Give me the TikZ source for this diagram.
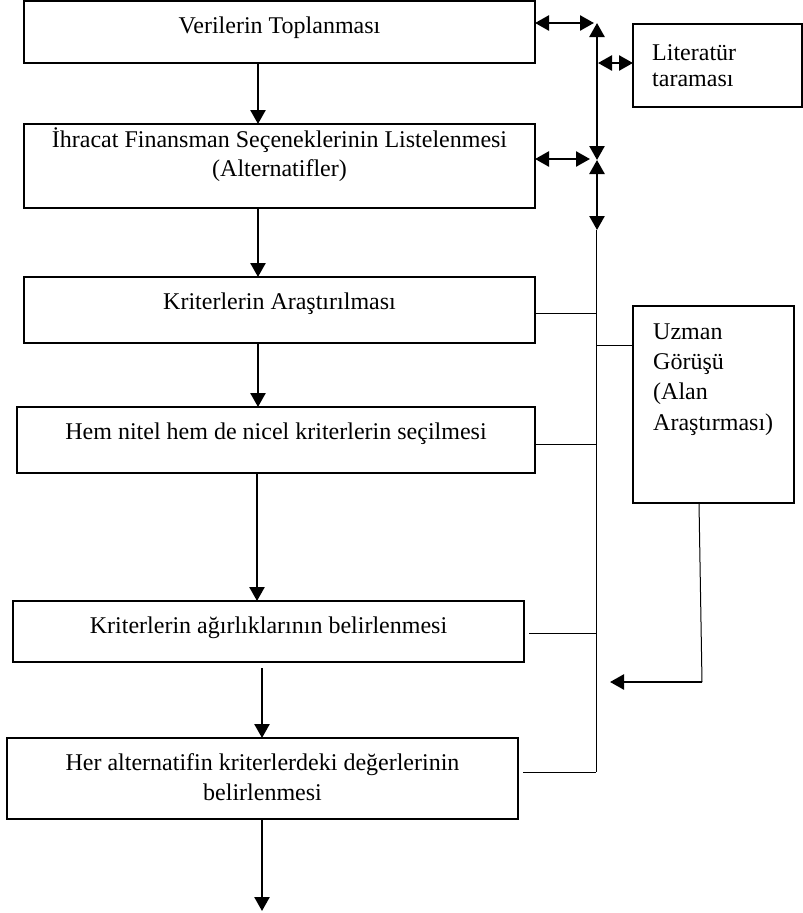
\documentclass[tikz,border=0pt]{standalone}
\usepackage{fontspec}
\setmainfont{Liberation Serif}
\usetikzlibrary{arrows.meta}
\begin{document}
\begin{tikzpicture}[x=1pt,y=-1pt,
  box/.style={draw, line width=1.5pt, inner sep=0pt, outer sep=0pt, anchor=north west},
  txt/.style={anchor=base, inner sep=0pt, font=\fontsize{24}{30}\selectfont},
  ltxt/.style={anchor=base west, inner sep=0pt, font=\fontsize{24}{30}\selectfont},
  arr/.style={line width=2.5pt, -{Triangle[length=14pt,width=15pt]}},
  dbl/.style={line width=2.5pt, {Triangle[length=14pt,width=15pt]}-{Triangle[length=14pt,width=15pt]}},
  conn/.style={line width=1pt}]
\useasboundingbox[fill=white] (0,0) rectangle (803,913);

% boxes
\node[box, minimum width=511pt, minimum height=62pt] (b1) at (24,1) {};
\node[box, minimum width=511pt, minimum height=84pt] (b2) at (24,124) {};
\node[box, minimum width=511pt, minimum height=66pt] (b3) at (24,277) {};
\node[box, minimum width=518pt, minimum height=66pt] (b4) at (17,407) {};
\node[box, minimum width=511pt, minimum height=61pt] (b5) at (13,601) {};
\node[box, minimum width=511pt, minimum height=81pt] (b6) at (7,738) {};
\node[box, minimum width=169pt, minimum height=83pt] (lit) at (633,24) {};
\node[box, minimum width=161pt, minimum height=197pt] (uz) at (633,306) {};

% texts
\node[txt] (t1) at (279.5,33) {Verilerin Toplanması};
\node[txt] (t2a) at (279.5,147) {İhracat Finansman Seçeneklerinin Listelenmesi};
\node[txt] (t2b) at (279.5,176) {(Alternatifler)};
\node[txt] (t3) at (279.5,309) {Kriterlerin Araştırılması};
\node[txt] (t4) at (276,439) {Hem nitel hem de nicel kriterlerin seçilmesi};
\node[txt] (t5) at (268.5,633) {Kriterlerin ağırlıklarının belirlenmesi};
\node[txt] (t6a) at (262.5,770) {Her alternatifin kriterlerdeki değerlerinin};
\node[txt] (t6b) at (262.5,800) {belirlenmesi};
\node[ltxt] (tl1) at (652,60) {Literatür};
\node[ltxt] (tl2) at (652,86) {taraması};
\node[ltxt] (tu1) at (653,339) {Uzman};
\node[ltxt] (tu2) at (653,369) {Görüşü};
\node[ltxt] (tu3) at (653,399) {(Alan};
\node[ltxt] (tu4) at (653,430) {Araştırması)};

% main flow arrows
\coordinate (ax1) at (258,0);
\coordinate (ax4) at (257,0);
\coordinate (ax5) at (262,0);
\coordinate (aend) at (262,911);
\draw[arr] (b1.south -| ax1) -- (b2.north -| ax1);
\draw[arr] (b2.south -| ax1) -- (b3.north -| ax1);
\draw[arr] (b3.south -| ax1) -- (b4.north -| ax1);
\draw[arr] (b4.south -| ax4) -- (b5.north -| ax4);
\draw[arr] ([yshift=-6pt]b5.south -| ax5) -- (b6.north -| ax5);
\draw[arr] (b6.south -| aend) -- (aend);

% right side
\coordinate (vtop) at (597,23);
\coordinate (j1) at (594,23);
\coordinate (vmid) at (597,160);
\coordinate (j2) at (590,159);
\coordinate (vlow) at (597,230);
\coordinate (vl) at (596,230);
\coordinate (vbot) at (596,772);
\coordinate (jl) at (598,63);
\draw[dbl] (b1.east |- j1) -- (j1);
\draw[dbl] (vtop) -- (vmid);
\draw[dbl] (vmid) -- (vlow);
\draw[dbl] (jl) -- (lit.west |- jl);
\draw[dbl] (b2.east |- j2) -- (j2);
\draw[conn] (vl) -- (vbot);

\coordinate (c3) at (596,313);
\coordinate (c4) at (596,444);
\coordinate (c5) at (596,633);
\coordinate (cu) at (596,345);
\draw[conn] (b3.east |- c3) -- (c3);
\draw[conn] (b4.east |- c4) -- (c4);
\draw[conn] ([xshift=5pt]b5.east |- c5) -- (c5);
\draw[conn] ([xshift=5pt]b6.east |- vbot) -- (vbot);
\draw[conn] (cu) -- (uz.west |- cu);

\coordinate (ub) at (699,503);
\coordinate (ua) at (702,682);
\coordinate (ut) at (610,682);
\draw[conn] (uz.south -| ub) -- (ua);
\draw[arr] (ua) -- (ut);
\end{tikzpicture}
\end{document}
